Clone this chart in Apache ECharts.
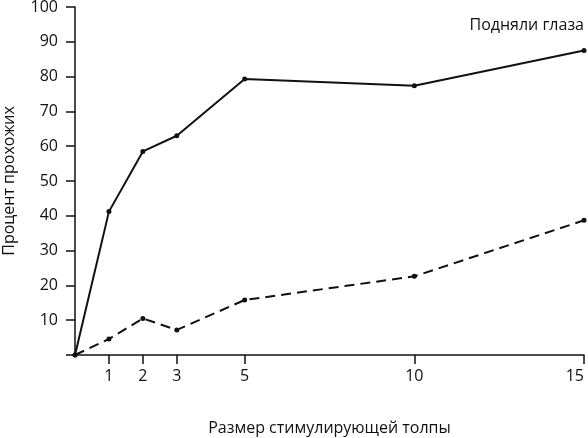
<!DOCTYPE html>
<html>
<head>
<meta charset="utf-8">
<script src="https://cdn.jsdelivr.net/npm/echarts@6/dist/echarts.min.js"></script>
<style>
  html, body { margin: 0; padding: 0; background: #fff; }
  #chart { width: 588px; height: 438px; }
</style>
</head>
<body>
<div id="chart"></div>
<script>
// crowd size on x, percent of passers-by on y
const crowdSizes = [0, 1, 2, 3, 5, 10, 15];
const lookedUp = [0, 41.2, 58.5, 63, 79.3, 77.4, 87.5];
const stopped = [0, 4.6, 10.5, 7.2, 15.8, 22.6, 38.7];
const xTicks = [1, 2, 3, 5, 10, 15];

const font = 'Open Sans';
const ink = '#111';

const chart = echarts.init(document.getElementById('chart'));

chart.setOption({
  animation: false,
  backgroundColor: '#fff',
  grid: { left: 75, right: 4, top: 7, bottom: 83, outerBoundsMode: 'none', containLabel: false },
  xAxis: {
    type: 'value',
    min: 0,
    max: 15,
    name: 'Размер стимулирующей толпы',
    nameLocation: 'middle',
    nameGap: 65,
    nameTextStyle: { fontFamily: font, fontSize: 16, color: ink },
    axisLine: { lineStyle: { color: ink, width: 1.5 } },
    axisTick: { customValues: xTicks, length: 9, lineStyle: { color: ink, width: 1.5 } },
    axisLabel: {
      customValues: xTicks,
      margin: 13,
      alignMaxLabel: 'right',
      fontFamily: font,
      fontSize: 16,
      color: ink
    },
    splitLine: { show: false }
  },
  yAxis: {
    type: 'value',
    min: 0,
    max: 100,
    interval: 10,
    name: 'Процент прохожих',
    nameLocation: 'middle',
    nameGap: 58,
    nameTextStyle: { fontFamily: font, fontSize: 16, color: ink },
    axisLine: { show: true, lineStyle: { color: ink, width: 1.5 } },
    axisTick: { show: true, length: 9, lineStyle: { color: ink, width: 1.5 } },
    axisLabel: {
      margin: 17,
      fontFamily: font,
      fontSize: 16,
      color: ink,
      formatter: v => (v === 0 ? '' : String(v))
    },
    splitLine: { show: false }
  },
  graphic: [{
    type: 'text',
    right: 4,
    top: 17,
    style: { text: 'Подняли глаза', font: '16px "Open Sans"', fill: ink }
  }],
  series: [
    {
      type: 'line',
      data: crowdSizes.map((x, i) => [x, lookedUp[i]]),
      symbol: 'circle',
      symbolSize: 5,
      itemStyle: { color: ink },
      lineStyle: { color: ink, width: 2 }
    },
    {
      type: 'line',
      data: crowdSizes.map((x, i) => [x, stopped[i]]),
      symbol: 'circle',
      symbolSize: 5,
      itemStyle: { color: ink },
      lineStyle: { color: ink, width: 2, type: [10, 6] }
    }
  ]
});
</script>
</body>
</html>
